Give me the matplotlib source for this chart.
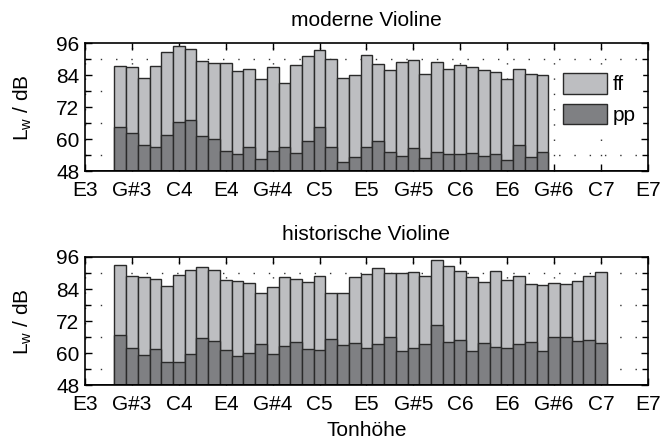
import matplotlib
matplotlib.use("Agg")
import matplotlib.pyplot as plt
import numpy as np

plt.rcParams['font.family'] = ['Liberation Sans', 'DejaVu Sans']
plt.rcParams['mathtext.fontset'] = 'custom'
plt.rcParams['mathtext.rm'] = 'Liberation Sans'
plt.rcParams['mathtext.it'] = 'Liberation Sans'

# x axis in semitones, E3 = 0
tick_pos = [0, 4, 8, 12, 16, 20, 24, 28, 32, 36, 40, 44, 48]
tick_labels = ["E3", "G#3", "C4", "E4", "G#4", "C5", "E5", "G#5", "C6", "E6", "G#6", "C7", "E7"]

# moderne Violine: G3 (3) .. G6 (39)
modern_notes = list(range(3, 40))
modern_ff = [87.5, 86.9, 82.9, 87.3, 92.8, 94.8, 93.9, 89.1, 88.6, 88.6, 85.6, 86.4, 82.7,
             87.0, 81.1, 87.8, 91.0, 93.3, 90.1, 82.9, 84.2, 91.6, 88.3, 85.8, 88.9, 89.5,
             84.4, 88.8, 86.2, 87.7, 86.9, 86.0, 85.3, 82.4, 86.3, 84.4, 83.9]
modern_pp = [64.7, 62.5, 58.0, 57.2, 61.7, 66.3, 67.2, 61.2, 60.2, 55.7, 54.4, 57.1, 52.5,
             55.6, 57.2, 54.7, 59.2, 64.7, 57.2, 51.6, 53.5, 57.0, 59.2, 55.2, 53.6, 56.6,
             53.0, 55.4, 54.6, 54.6, 54.9, 53.6, 54.4, 52.4, 57.8, 53.5, 55.2]

# historische Violine: G3 (3) .. C7 (44)
hist_notes = list(range(3, 45))
hist_ff = [92.9, 89.0, 88.5, 87.9, 85.2, 89.4, 91.0, 92.1, 91.0, 87.3, 86.9, 86.4, 82.5,
           84.9, 88.4, 87.9, 86.8, 88.9, 82.7, 82.7, 88.4, 89.6, 92.0, 89.9, 90.0, 90.5,
           88.9, 94.9, 92.8, 90.8, 88.5, 86.8, 90.6, 87.5, 89.0, 85.8, 85.4, 86.4, 85.9,
           87.0, 88.9, 90.4]
hist_pp = [66.9, 62.1, 59.5, 61.6, 56.6, 56.6, 59.7, 65.7, 64.5, 61.3, 58.8, 60.1, 63.3,
           59.7, 62.6, 64.2, 61.5, 61.2, 65.5, 63.1, 63.7, 61.8, 63.3, 66.2, 60.8, 61.8,
           63.6, 70.4, 64.2, 65.0, 60.8, 64.0, 62.3, 61.8, 63.3, 64.2, 61.0, 66.2, 66.2,
           64.6, 64.8, 63.8]

ff_color = "#bdbec1"
pp_color = "#7f8083"
edge = "#2a2a2a"
fs_tick = 15
fs_text = 15

fig = plt.figure(figsize=(6.61, 4.45), dpi=100)
ax1 = fig.add_axes([0.1286, 0.615, 0.8517, 0.2883])
ax2 = fig.add_axes([0.1286, 0.1342, 0.8517, 0.2883])


def draw(ax, notes, ff, pp, title):
    ff = np.array(ff)
    pp = np.array(pp)
    ax.set_axisbelow(True)
    b1 = ax.bar(notes, ff - 48, bottom=48, width=1.0, color=ff_color, edgecolor=edge, linewidth=1.0, label="ff")
    b2 = ax.bar(notes, pp - 48, bottom=48, width=1.0, color=pp_color, edgecolor=edge, linewidth=1.0, label="pp")
    ax.axhline(48, color="black", lw=2.0, zorder=3)
    ax.set_xlim(0, 48)
    ax.set_ylim(48, 96)
    ax.set_xticks(tick_pos)
    ax.set_xticklabels(tick_labels)
    ax.set_yticks([48, 60, 72, 84, 96])
    ax.set_yticks(np.arange(48, 97, 6), minor=True)
    ax.tick_params(which="both", direction="in", top=True, right=True, labelsize=fs_tick)
    ax.tick_params(axis="x", pad=7)
    ax.tick_params(axis="y", pad=4)
    ax.tick_params(which="major", length=5, width=1.0)
    ax.tick_params(which="minor", length=4, width=1.0)
    ax.grid(True, which="minor", axis="y", color="#333333", linestyle=(0, (1, 10)), linewidth=1.0)
    ax.grid(True, which="major", axis="x", color="#333333", linestyle=(0, (1, 10)), linewidth=1.0)
    for s in ax.spines.values():
        s.set_linewidth(1.2)
    ax.set_ylabel(r"L$_\mathrm{w}$ / dB", fontsize=fs_text, labelpad=16)
    ax.set_title(title, fontsize=fs_text, pad=12)
    return b1, b2


b1, b2 = draw(ax1, modern_notes, modern_ff, modern_pp, "moderne Violine")
draw(ax2, hist_notes, hist_ff, hist_pp, "historische Violine")

leg = ax1.legend(loc="upper left", bbox_to_anchor=(0.838, 0.815), fontsize=fs_tick,
                 handlelength=2.1, handleheight=1.15, labelspacing=0.45, handletextpad=0.3,
                 borderpad=0.3, borderaxespad=0, frameon=True, fancybox=False)
leg.get_frame().set_edgecolor("white")
leg.get_frame().set_facecolor("white")
leg.get_frame().set_alpha(1.0)
for p in leg.get_patches():
    p.set_edgecolor(edge)
    p.set_linewidth(1.0)

ax2.set_xlabel("Tonhöhe", fontsize=fs_text, labelpad=5)

fig.savefig("out.png", dpi=100)
